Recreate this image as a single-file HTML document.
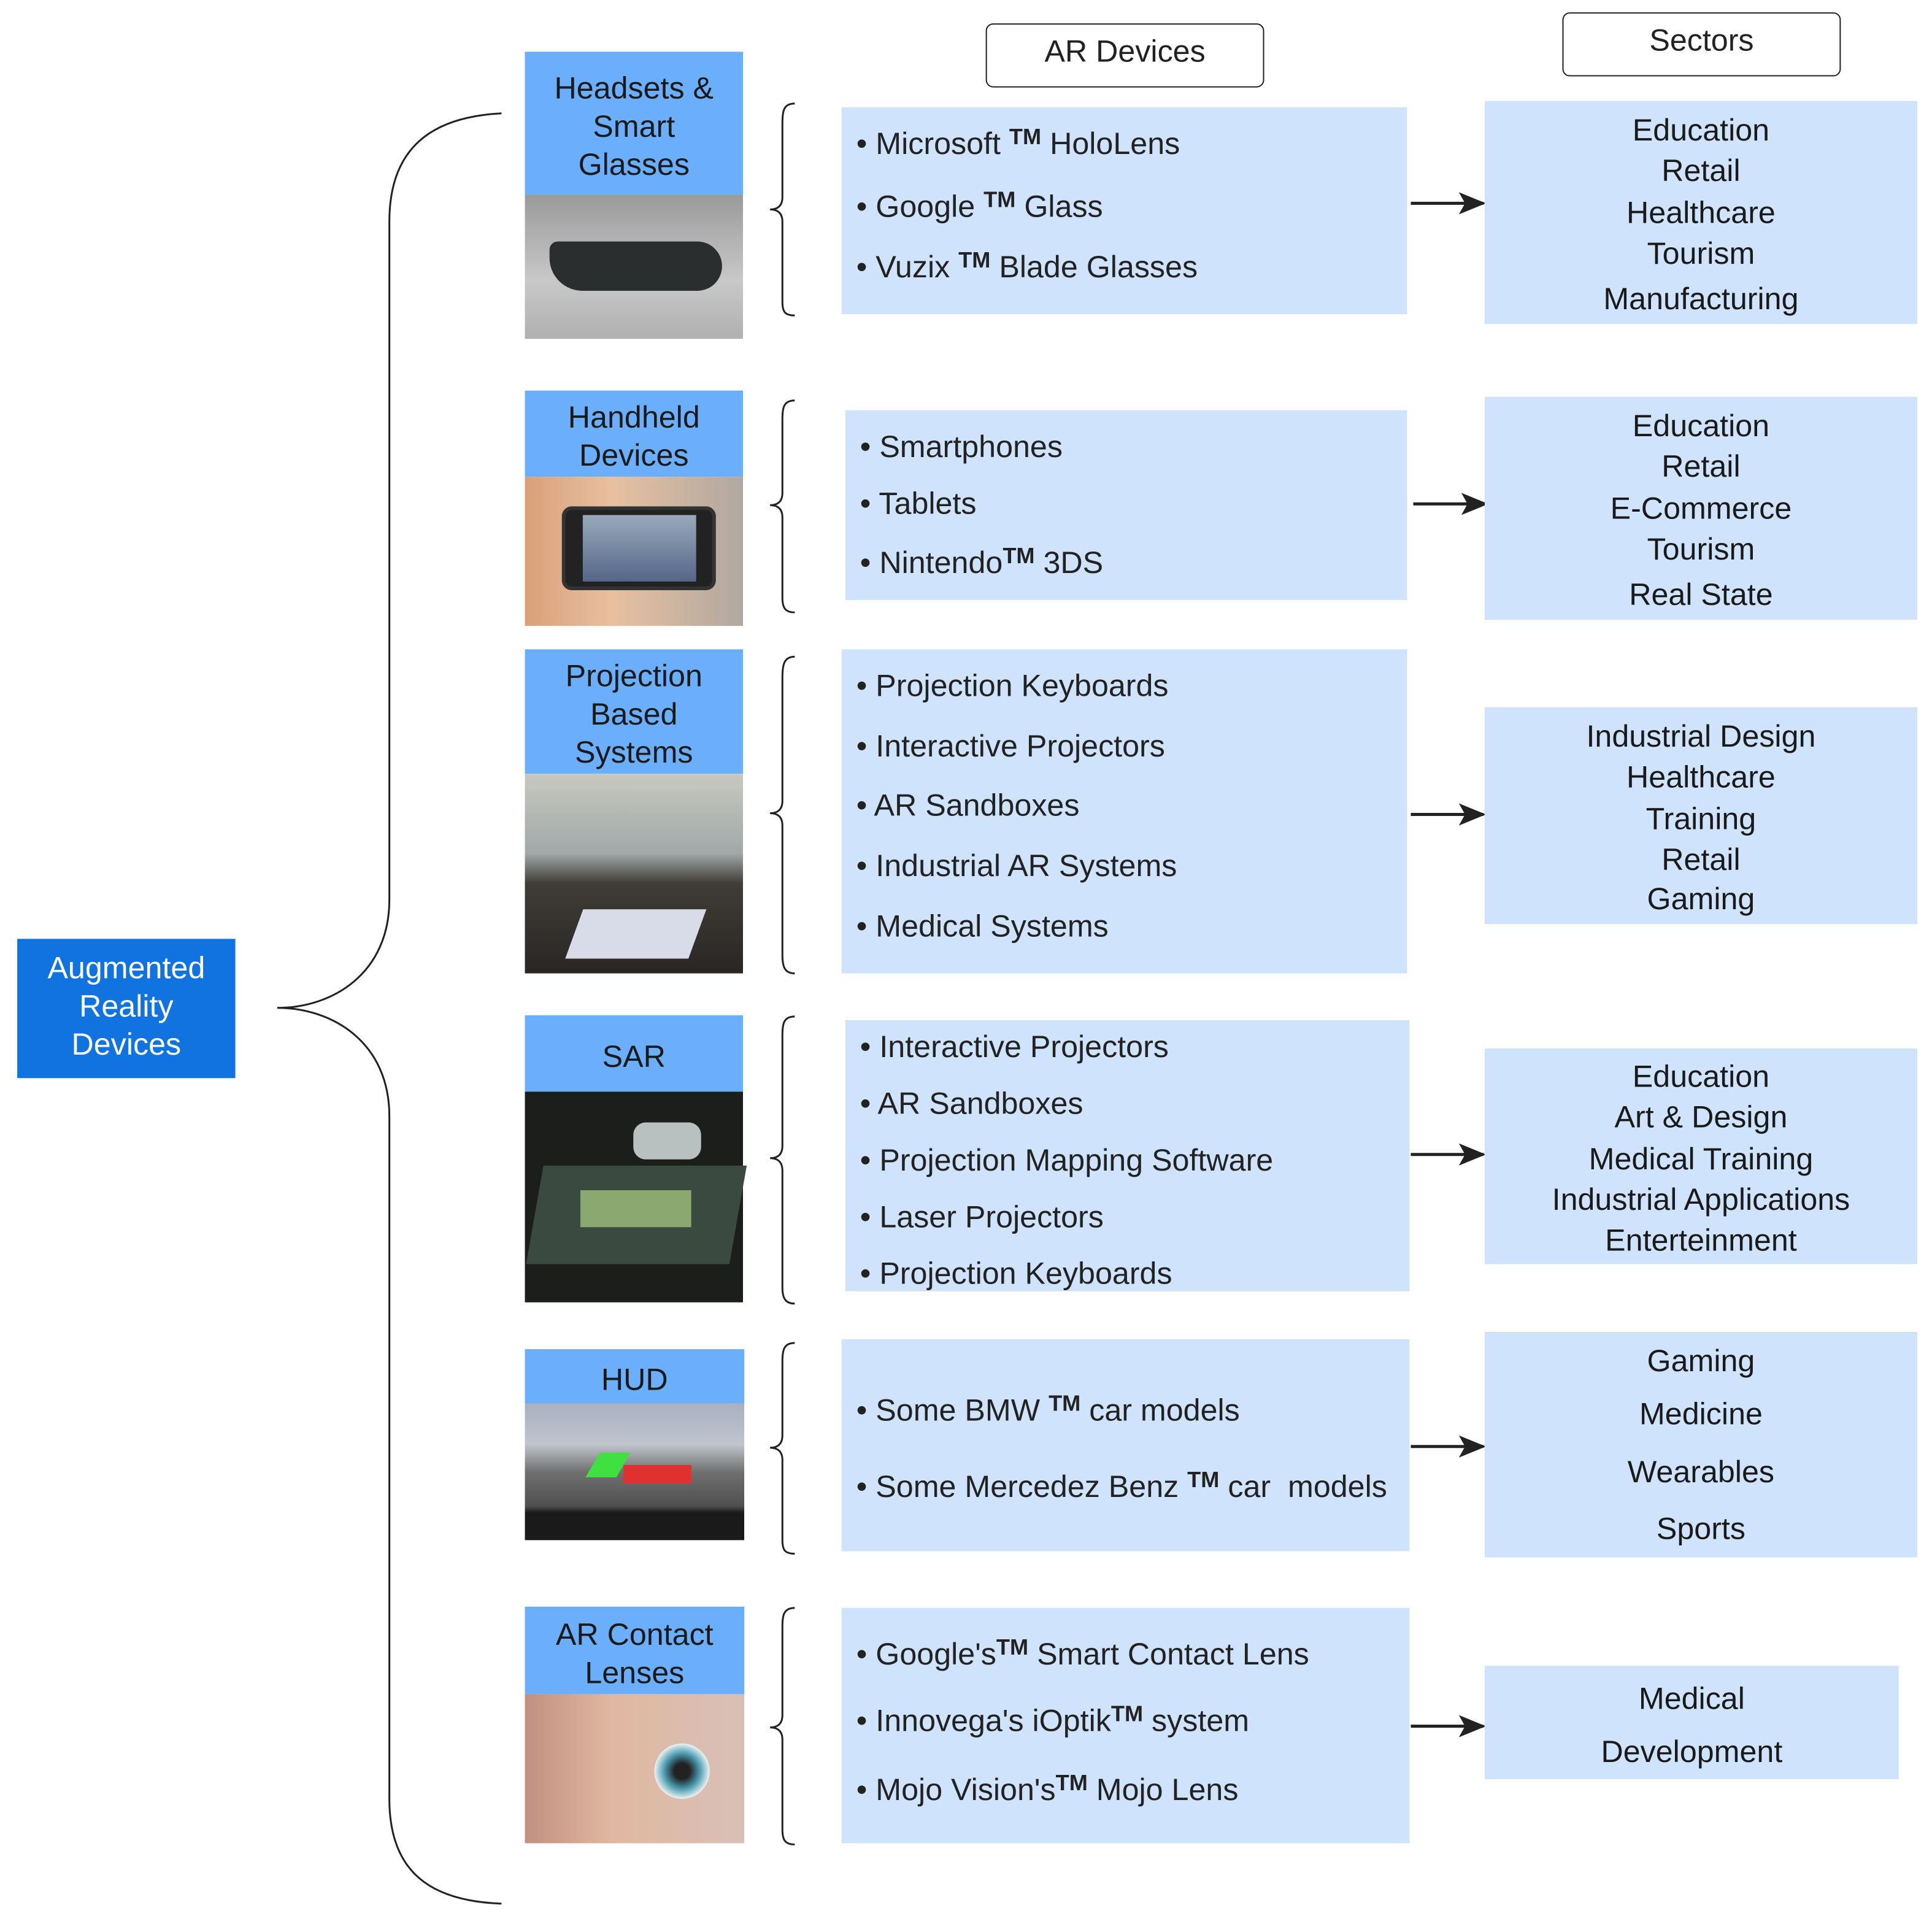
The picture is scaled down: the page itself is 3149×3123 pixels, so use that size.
<!DOCTYPE html>
<html><head><meta charset="utf-8"><style>
html,body{margin:0;padding:0;background:#fff;width:3149px;height:3123px;overflow:hidden}
#w{position:absolute;left:0;top:0;width:1568px;height:1555px;transform:scale(2.0083);transform-origin:0 0;font-family:"Liberation Sans",sans-serif;color:#222}
.a{position:absolute;box-sizing:border-box}
.lab{background:#6aaefc;text-align:center;font-size:25px;line-height:31px;color:#1a1a1a;display:flex;align-items:center;justify-content:center;padding-top:6px}
.mid{background:#cfe4fc;font-size:25px;padding-left:12px}
.mid div{position:absolute;left:12px;white-space:nowrap}
.sec{background:#cfe4fc;font-size:25px;text-align:center;color:#1a1a1a}
.sec div{position:absolute;left:0;right:0}
sup{font-size:18px;font-weight:bold;vertical-align:8px}
.hdr{border:1.5px solid #222;border-radius:6px;text-align:center;font-size:25px;line-height:44px;background:#fff}
</style></head><body><div id="w">
<svg class="a" style="left:0;top:0" width="1568" height="1555">
<defs><marker id="ar" markerWidth="22" markerHeight="20" refX="20" refY="10" orient="auto" markerUnits="userSpaceOnUse" viewBox="0 0 22 20"><path d="M0,1 L22,10 L0,19 L5,10 Z" fill="#222"/></marker></defs>
<path d="M407,92 C350,95 316,120 316,180 L316,730 C316,790 270,818 225,818 C270,818 316,846 316,906 L316,1460 C316,1520 350,1543 407,1545" fill="none" stroke="#222" stroke-width="1.5"/>
<g fill="none" stroke="#222" stroke-width="1.5">
<path d="M645,84 C636,84 635,90 635,100 L635,160 C635,168 630,170 625,170 C630,170 635,172 635,180 L635,245 C635,253 637,256 645,256"/>
<path d="M645,325 C636,325 635,331 635,340 L635,400 C635,408 630,410 625,410 C630,410 635,412 635,420 L635,485 C635,493 637,497 645,497"/>
<path d="M645,533 C636,533 635,540 635,550 L635,650 C635,658 630,660 625,660 C630,660 635,662 635,670 L635,775 C635,785 637,790 645,790"/>
<path d="M645,825 C636,825 635,831 635,840 L635,930 C635,938 630,940 625,940 C630,940 635,942 635,950 L635,1045 C635,1053 637,1058 645,1058"/>
<path d="M645,1090 C636,1090 635,1096 635,1105 L635,1165 C635,1173 630,1175 625,1175 C630,1175 635,1177 635,1185 L635,1250 C635,1258 637,1261 645,1261"/>
<path d="M645,1305 C636,1305 635,1311 635,1320 L635,1392 C635,1400 630,1402 625,1402 C630,1402 635,1404 635,1412 L635,1485 C635,1493 637,1497 645,1497"/>
</g>
<g stroke="#222" stroke-width="2.5" marker-end="url(#ar)">
<line x1="1145" y1="165" x2="1204" y2="165"/><line x1="1147" y1="409" x2="1206" y2="409"/>
<line x1="1145" y1="661" x2="1204" y2="661"/><line x1="1145" y1="937" x2="1204" y2="937"/>
<line x1="1145" y1="1174" x2="1204" y2="1174"/><line x1="1145" y1="1401" x2="1204" y2="1401"/>
</g>
</svg>
<div class="a" style="left:14px;top:762px;width:177px;height:113px;background:#1173e0;color:#fff;font-size:25px;line-height:31px;text-align:center;padding-top:9px">Augmented<br>Reality<br>Devices</div>
<div class="a hdr" style="left:800px;top:19px;width:226px;height:52px">AR Devices</div>
<div class="a hdr" style="left:1268px;top:10px;width:226px;height:52px">Sectors</div>

<div class="a lab" style="left:426px;top:42px;width:177px;height:116px">Headsets &amp;<br>Smart<br>Glasses</div>
<div class="a" style="left:426px;top:158px;width:177px;height:117px;background:linear-gradient(#9a9a9a,#c8c8c8 60%,#b0b0b0)"><div class="a" style="left:20px;top:38px;width:140px;height:40px;border-radius:10px 30px 30px 40px;background:#2a2e2e"></div></div>
<div class="a lab" style="left:426px;top:317px;width:177px;height:70px">Handheld<br>Devices</div>
<div class="a" style="left:426px;top:387px;width:177px;height:121px;background:linear-gradient(90deg,#d8a078,#e8c0a0 40%,#b0a8a0)"><div class="a" style="left:30px;top:24px;width:125px;height:68px;border-radius:8px;background:#222;border:3px solid #333"><div class="a" style="left:14px;top:4px;width:92px;height:54px;background:linear-gradient(#9ab,#568)"></div></div></div>
<div class="a lab" style="left:426px;top:527px;width:177px;height:101px">Projection<br>Based<br>Systems</div>
<div class="a" style="left:426px;top:628px;width:177px;height:162px;background:linear-gradient(#c8c8c0,#a0a8a8 40%,#403c38 55%,#2a2624)"><div class="a" style="left:40px;top:110px;width:100px;height:40px;background:#d8dce8;transform:skewX(-20deg)"></div></div>
<div class="a lab" style="left:426px;top:824px;width:177px;height:62px">SAR</div>
<div class="a" style="left:426px;top:886px;width:177px;height:171px;background:#1c1e1c"><div class="a" style="left:8px;top:60px;width:165px;height:80px;background:#3a4a40;transform:skewX(-10deg)"></div><div class="a" style="left:45px;top:80px;width:90px;height:30px;background:#8aa870"></div><div class="a" style="left:88px;top:25px;width:55px;height:30px;border-radius:10px;background:#b8c0c0"></div></div>
<div class="a lab" style="left:426px;top:1095px;width:178px;height:44px">HUD</div>
<div class="a" style="left:426px;top:1139px;width:178px;height:111px;background:linear-gradient(#a8b0c0,#c0c4cc 30%,#707070 50%,#505050 75%,#1a1a1a 80%)"><div class="a" style="left:80px;top:50px;width:55px;height:15px;background:#e03030"></div><div class="a" style="left:55px;top:40px;width:25px;height:20px;background:#40e040;transform:skewX(-30deg)"></div></div>
<div class="a lab" style="left:426px;top:1304px;width:178px;height:71px">AR Contact<br>Lenses</div>
<div class="a" style="left:426px;top:1375px;width:178px;height:121px;background:linear-gradient(90deg,#c09080,#e0b8a0 40%,#d8c0b8)"><div class="a" style="left:105px;top:40px;width:45px;height:45px;border-radius:50%;background:radial-gradient(#222 20%,#4a9ab0 45%,#e8f0f0 70%)"></div></div>

<div class="a mid" style="left:683px;top:87px;width:459px;height:168px"><div style="top:14px">• Microsoft <sup>TM</sup> HoloLens</div><div style="top:65px">• Google <sup>TM</sup> Glass</div><div style="top:114px">• Vuzix <sup>TM</sup> Blade Glasses</div></div>
<div class="a mid" style="left:686px;top:333px;width:456px;height:154px"><div style="top:16px">• Smartphones</div><div style="top:62px">• Tablets</div><div style="top:108px">• Nintendo<sup>TM</sup> 3DS</div></div>
<div class="a mid" style="left:683px;top:527px;width:459px;height:263px"><div style="top:16px">• Projection Keyboards</div><div style="top:65px">• Interactive Projectors</div><div style="top:113px">• AR Sandboxes</div><div style="top:162px">• Industrial AR Systems</div><div style="top:211px">• Medical Systems</div></div>
<div class="a mid" style="left:686px;top:828px;width:458px;height:220px"><div style="top:8px">• Interactive Projectors</div><div style="top:54px">• AR Sandboxes</div><div style="top:100px">• Projection Mapping Software</div><div style="top:146px">• Laser Projectors</div><div style="top:192px">• Projection Keyboards</div></div>
<div class="a mid" style="left:683px;top:1087px;width:461px;height:172px"><div style="top:42px">• Some BMW <sup>TM</sup> car models</div><div style="top:104px">• Some Mercedez Benz <sup>TM</sup> car&nbsp; models</div></div>
<div class="a mid" style="left:683px;top:1305px;width:461px;height:191px"><div style="top:22px">• Google's<sup>TM</sup> Smart Contact Lens</div><div style="top:76px">• Innovega's iOptik<sup>TM</sup> system</div><div style="top:132px">• Mojo Vision's<sup>TM</sup> Mojo Lens</div></div>

<div class="a sec" style="left:1205px;top:82px;width:351px;height:181px"><div style="top:10px">Education</div><div style="top:43px">Retail</div><div style="top:77px">Healthcare</div><div style="top:110px">Tourism</div><div style="top:147px">Manufacturing</div></div>
<div class="a sec" style="left:1205px;top:322px;width:351px;height:181px"><div style="top:10px">Education</div><div style="top:43px">Retail</div><div style="top:77px">E-Commerce</div><div style="top:110px">Tourism</div><div style="top:147px">Real State</div></div>
<div class="a sec" style="left:1205px;top:574px;width:351px;height:176px"><div style="top:10px">Industrial Design</div><div style="top:43px">Healthcare</div><div style="top:77px">Training</div><div style="top:110px">Retail</div><div style="top:142px">Gaming</div></div>
<div class="a sec" style="left:1205px;top:851px;width:351px;height:175px"><div style="top:9px">Education</div><div style="top:42px">Art &amp; Design</div><div style="top:76px">Medical Training</div><div style="top:109px">Industrial Applications</div><div style="top:142px">Enterteinment</div></div>
<div class="a sec" style="left:1205px;top:1081px;width:351px;height:183px"><div style="top:10px">Gaming</div><div style="top:53px">Medicine</div><div style="top:100px">Wearables</div><div style="top:146px">Sports</div></div>
<div class="a sec" style="left:1205px;top:1352px;width:336px;height:92px"><div style="top:13px">Medical</div><div style="top:56px">Development</div></div>
</div></body></html>
